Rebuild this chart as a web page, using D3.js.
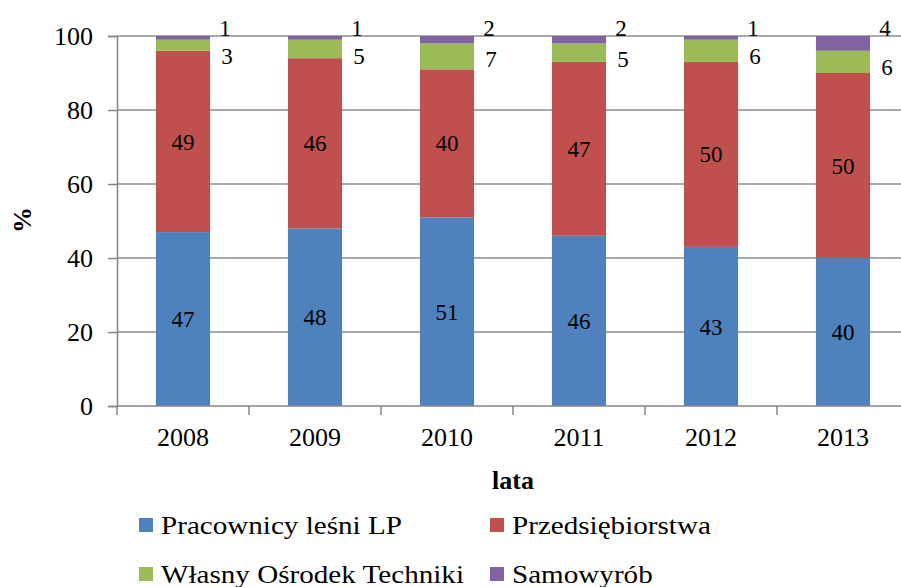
<!DOCTYPE html>
<html>
<head>
<meta charset="utf-8">
<script src="https://d3js.org/d3.v7.min.js"></script>
<style>
  body { margin: 0; background: #fff; }
  text { font-family: "Liberation Serif", "Times New Roman", serif; fill: #000; }
</style>
</head>
<body>
<div id="chart"></div>
<script>
// Data (percent shares per year)
const years = ["2008", "2009", "2010", "2011", "2012", "2013"];
const seriesNames = ["Pracownicy leśni LP", "Przedsiębiorstwa", "Własny Ośrodek Techniki", "Samowyrób"];
const pracownicy = [47, 48, 51, 46, 43, 40];
const przedsiebiorstwa = [49, 46, 40, 47, 50, 50];
const osrodek = [3, 5, 7, 5, 6, 6];
const samowyrob = [1, 1, 2, 2, 1, 4];
const yTicks = [0, 20, 40, 60, 80, 100];

const colors = ["#4F81BD", "#C0504D", "#9BBB59", "#8064A2"];

const width = 901, height = 587;
const margin = { left: 117, right: -8, top: 36, bottom: 181 };

const rows = years.map((y, i) => ({
  year: y,
  s0: pracownicy[i], s1: przedsiebiorstwa[i], s2: osrodek[i], s3: samowyrob[i]
}));
const keys = ["s0", "s1", "s2", "s3"];
const stacked = d3.stack().keys(keys)(rows);

const x = d3.scaleBand()
    .domain(years)
    .range([margin.left, width - margin.right])
    .paddingInner(0.59)
    .paddingOuter(0.295);

const y = d3.scaleLinear()
    .domain([0, 100])
    .range([height - margin.bottom, margin.top]);

const svg = d3.select("#chart").append("svg")
    .attr("width", width)
    .attr("height", height)
    .attr("font-family", "Liberation Serif");

// Gridlines
svg.append("g")
  .selectAll("line")
  .data(yTicks.filter(d => d > 0))
  .join("line")
    .attr("x1", margin.left)
    .attr("x2", width)
    .attr("y1", d => y(d))
    .attr("y2", d => y(d))
    .attr("stroke", "#8c8c8c")
    .attr("stroke-width", 1.3);

// Bars
svg.append("g")
  .selectAll("g")
  .data(stacked)
  .join("g")
    .attr("fill", (d, i) => colors[i])
  .selectAll("rect")
  .data(d => d)
  .join("rect")
    .attr("x", d => x(d.data.year))
    .attr("width", x.bandwidth())
    .attr("y", d => y(d[1]))
    .attr("height", d => y(d[0]) - y(d[1]));

// Y axis
const yAxis = svg.append("g")
    .attr("transform", `translate(${margin.left},0)`)
    .call(d3.axisLeft(y).tickValues(yTicks).tickSize(9).tickPadding(15));
yAxis.select(".domain").attr("stroke", "#868686").attr("stroke-width", 1.5);
yAxis.selectAll(".tick line").attr("stroke", "#868686").attr("stroke-width", 1.5);
yAxis.selectAll(".tick text")
    .attr("font-size", 26)
    .attr("font-family", "Liberation Serif")
    .attr("fill", "#000");

// X axis
const xAxisG = svg.append("g")
    .attr("transform", `translate(0,${y(0)})`);
xAxisG.append("line")
    .attr("x1", margin.left).attr("x2", width)
    .attr("stroke", "#868686").attr("stroke-width", 1.5);
const step = x.step();
xAxisG.selectAll(".xt")
  .data(years)
  .join("line")
    .attr("class", "xt")
    .attr("x1", (d, i) => margin.left + i * step)
    .attr("x2", (d, i) => margin.left + i * step)
    .attr("y1", 0).attr("y2", 9)
    .attr("stroke", "#868686").attr("stroke-width", 1.5);
xAxisG.selectAll(".xl")
  .data(years)
  .join("text")
    .attr("class", "xl")
    .attr("x", d => x(d) + x.bandwidth() / 2)
    .attr("y", 31)
    .attr("dy", "0.35em")
    .attr("text-anchor", "middle")
    .attr("font-size", 26)
    .text(d => d);

// Axis titles
svg.append("text")
    .attr("x", (margin.left + width - margin.right) / 2)
    .attr("y", 480)
    .attr("dy", "0.35em")
    .attr("text-anchor", "middle")
    .attr("font-size", 26)
    .attr("font-weight", "bold")
    .text("lata");

svg.append("text")
    .attr("transform", "translate(22,220) rotate(-90)")
    .attr("dy", "0.35em")
    .attr("text-anchor", "middle")
    .attr("font-size", 26)
    .attr("font-weight", "bold")
    .text("%");

// Labels inside blue and red segments
svg.append("g")
  .selectAll("g")
  .data(stacked.slice(0, 2))
  .join("g")
  .selectAll("text")
  .data((d, i) => d.map(v => ({ v, key: keys[i] })))
  .join("text")
    .attr("x", d => x(d.v.data.year) + x.bandwidth() / 2)
    .attr("y", d => y((d.v[0] + d.v[1]) / 2))
    .attr("dy", "0.35em")
    .attr("text-anchor", "middle")
    .attr("font-size", 23)
    .text(d => d.v.data[d.key]);

// Labels right of the bar for green and purple segments
const lab = svg.append("g").attr("font-size", 23);
lab.selectAll(".lg")
  .data(stacked[2])
  .join("text")
    .attr("class", "lg")
    .attr("x", d => x(d.data.year) + x.bandwidth() + 17)
    .attr("y", d => y(d[1]) + 16)
    .attr("dy", "0.35em")
    .attr("text-anchor", "middle")
    .text(d => d.data.s2);
lab.selectAll(".lp")
  .data(stacked[3])
  .join("text")
    .attr("class", "lp")
    .attr("x", d => x(d.data.year) + x.bandwidth() + 15)
    .attr("y", d => y(d[1]) - 8)
    .attr("dy", "0.35em")
    .attr("text-anchor", "middle")
    .text(d => d.data.s3);

// Legend (two columns, two rows; text in the source is slightly wide)
const legendPos = [
  { x: 139, y: 525 }, { x: 490, y: 525 },
  { x: 139, y: 574 }, { x: 490, y: 574 }
];
const legend = svg.append("g")
  .selectAll("g")
  .data(seriesNames)
  .join("g")
    .attr("transform", (d, i) => `translate(${legendPos[i].x},${legendPos[i].y})`);
legend.append("rect")
    .attr("x", 0).attr("y", -7)
    .attr("width", 14).attr("height", 14)
    .attr("fill", (d, i) => colors[i]);
legend.append("text")
    .attr("transform", "translate(22,0) scale(1.12,1)")
    .attr("dy", "0.33em")
    .attr("font-size", 26)
    .text(d => d);
</script>
</body>
</html>
